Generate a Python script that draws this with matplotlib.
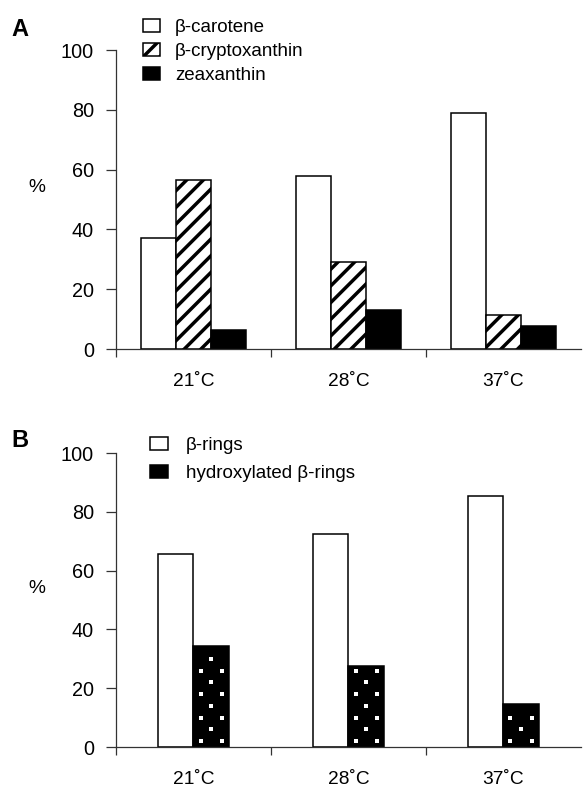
import numpy as np
import matplotlib
matplotlib.use("Agg")
import matplotlib.pyplot as plt
from matplotlib.patches import Patch

plt.rcParams['font.family'] = ['Liberation Sans', 'DejaVu Sans']
plt.rcParams['hatch.linewidth'] = 2.5

temps = ['21˚C', '28˚C', '37˚C']
# panel A: carotenoid composition (%)
carotene = [37, 58, 79]
cryptoxanthin = [56.5, 29, 11.5]
zeaxanthin = [6.3, 13, 7.6]
# panel B: ring composition (%)
beta_rings = [65.5, 72.5, 85.5]
hydroxylated = [34.5, 27.5, 14.5]
yticks = [0, 20, 40, 60, 80, 100]

fig = plt.figure(figsize=(5.84, 7.92), dpi=100)
axA = fig.add_axes([0.1986, 0.5593, 0.796, 0.3775])
axB = fig.add_axes([0.1986, 0.0568, 0.796, 0.3712])

spine_col = '#333333'


def style_axes(ax):
    ax.set_xlim(0, 3)
    ax.set_ylim(0, 100)
    for s in ['top', 'right']:
        ax.spines[s].set_visible(False)
    for s in ['left', 'bottom']:
        ax.spines[s].set_color(spine_col)
        ax.spines[s].set_linewidth(0.9)
    ax.set_yticks(yticks)
    ax.tick_params(axis='y', direction='out', length=7, width=0.9,
                   color=spine_col, labelsize=14.3, pad=9)
    ax.set_xticks([0, 1, 2])
    ax.set_xticklabels([])
    ax.set_xticks([0.5, 1.5, 2.5], minor=True)
    ax.set_xticklabels(temps, minor=True)
    ax.tick_params(axis='x', which='major', direction='out', length=6,
                   width=0.9, color=spine_col)
    ax.tick_params(axis='x', which='minor', length=0, labelsize=13.8, pad=17)
    ax.text(-0.17, 0.54, '%', transform=ax.transAxes, fontsize=13.8,
            ha='center', va='center')


x = np.arange(3) + 0.5

# ---- panel A
w = 0.226
axA.bar(x - w, carotene, w, facecolor='white', edgecolor='black', linewidth=1.1)
axA.bar(x, cryptoxanthin, w, facecolor='white', edgecolor='black',
        linewidth=1.1, hatch='//')
axA.bar(x + w, zeaxanthin, w, facecolor='black', edgecolor='black', linewidth=1.1)
style_axes(axA)
hA = [Patch(facecolor='white', edgecolor='black', linewidth=1.1),
      Patch(facecolor='white', edgecolor='black', linewidth=1.1, hatch='//'),
      Patch(facecolor='black', edgecolor='black', linewidth=1.1)]
axA.legend(hA, ['β-carotene', 'β-cryptoxanthin', 'zeaxanthin'],
           loc='upper left', bbox_to_anchor=(0.058, 1.105), frameon=False,
           fontsize=13.5, handlelength=0.9, handleheight=0.7,
           handletextpad=0.8, labelspacing=0.38, borderpad=0, borderaxespad=0)
fig.text(0.019, 0.963, 'A', fontsize=17, fontweight='bold', ha='left', va='center')

# ---- panel B
wb = 0.23
axB.bar(x - wb / 2, beta_rings, wb, facecolor='white', edgecolor='black',
        linewidth=1.1)
axB.bar(x + wb / 2, hydroxylated, wb, facecolor='black', edgecolor='black',
        linewidth=1.1)
# white dot texture on the hydroxylated bars
for xc, h in zip(x + wb / 2, hydroxylated):
    rows = np.arange(2, h - 1, 4)
    for i, yy in enumerate(rows):
        cols = [-0.3, 0.3] if i % 2 == 0 else [0.0]
        axB.scatter([xc + c * wb for c in cols], [yy] * len(cols), s=6,
                    marker='s', color='white', linewidths=0, zorder=3)
style_axes(axB)
hB = [Patch(facecolor='white', edgecolor='black', linewidth=1.1),
      Patch(facecolor='black', edgecolor='black', linewidth=1.1)]
axB.legend(hB, ['β-rings', 'hydroxylated β-rings'],
           loc='upper left', bbox_to_anchor=(0.073, 1.055), frameon=False,
           fontsize=13.5, handlelength=0.95, handleheight=0.7,
           handletextpad=0.95, labelspacing=0.58, borderpad=0, borderaxespad=0)
fig.text(0.02, 0.444, 'B', fontsize=17, fontweight='bold', ha='left', va='center')

fig.savefig('out.png', dpi=100)
